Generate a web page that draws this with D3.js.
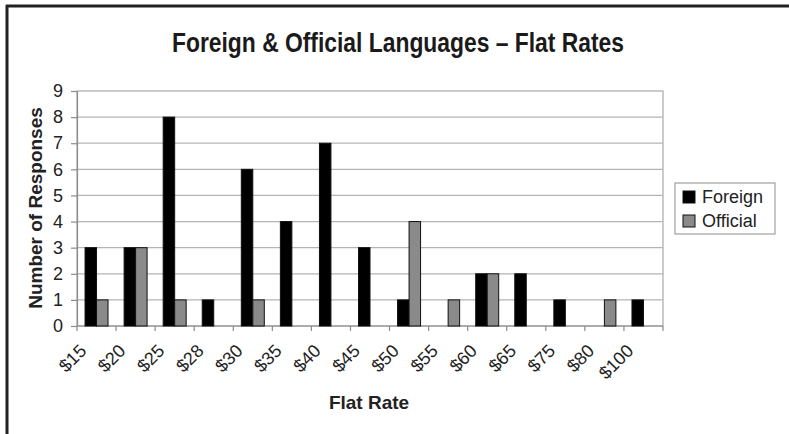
<!DOCTYPE html>
<html>
<head>
<meta charset="utf-8">
<script src="https://cdn.jsdelivr.net/npm/d3@7"></script>
<style>
  html, body { margin: 0; padding: 0; background: #fff; }
  svg { display: block; }
</style>
</head>
<body>
<svg id="chart" width="789" height="434"></svg>
<script>
// Flat-rate survey responses for foreign and official language work
const categories = ["$15", "$20", "$25", "$28", "$30", "$35", "$40", "$45", "$50", "$55", "$60", "$65", "$75", "$80", "$100"];
const foreign  = [3, 3, 8, 1, 6, 4, 7, 3, 1, 0, 2, 2, 1, 0, 1];
const official = [1, 3, 1, 0, 1, 0, 0, 0, 4, 1, 2, 0, 0, 1, 0];
const seriesNames = ["Foreign", "Official"];
const yTicks = [0, 1, 2, 3, 4, 5, 6, 7, 8, 9];

const seriesData = { Foreign: foreign, Official: official };
const colors = { Foreign: "#000000", Official: "#8a8a8a" };

const svg = d3.select("#chart");
const plot = { left: 77, right: 663, top: 91, bottom: 326 };

// Frame around the figure
svg.append("line").attr("x1", 6).attr("x2", 789).attr("y1", 6).attr("y2", 6)
  .attr("stroke", "#222").attr("stroke-width", 3);
svg.append("line").attr("x1", 7).attr("x2", 7).attr("y1", 5).attr("y2", 434)
  .attr("stroke", "#222").attr("stroke-width", 3);

// Title
svg.append("text")
  .attr("x", 398).attr("y", 52)
  .attr("text-anchor", "middle")
  .attr("font-family", "'Liberation Sans Narrow', 'Arial Narrow', sans-serif")
  .attr("font-weight", "bold")
  .attr("font-size", 28)
  .attr("fill", "#1a1a1a")
  .attr("textLength", 452)
  .attr("lengthAdjust", "spacingAndGlyphs")
  .text("Foreign & Official Languages \u2013 Flat Rates");

const x = d3.scaleBand().domain(categories).range([plot.left, plot.right]).paddingInner(0).paddingOuter(0);
const xs = d3.scaleBand().domain(seriesNames).range([0, x.bandwidth()]).paddingInner(0).paddingOuter(0.7);
const y = d3.scaleLinear().domain([0, 9]).range([plot.bottom, plot.top]);

// Plot area
svg.append("rect")
  .attr("x", plot.left).attr("y", plot.top)
  .attr("width", plot.right - plot.left).attr("height", plot.bottom - plot.top)
  .attr("fill", "#fff").attr("stroke", "#a8a8a8").attr("stroke-width", 1.2);

// Horizontal gridlines
svg.append("g").selectAll("line")
  .data(yTicks.filter(t => t > 0 && t < 9))
  .join("line")
  .attr("x1", plot.left).attr("x2", plot.right)
  .attr("y1", d => y(d)).attr("y2", d => y(d))
  .attr("stroke", "#b4b4b4").attr("stroke-width", 1.2);

// Y axis
const yAxis = svg.append("g")
  .attr("transform", `translate(${plot.left},0)`)
  .call(d3.axisLeft(y).tickValues(yTicks).tickSize(6).tickPadding(8).tickSizeOuter(0));
yAxis.select(".domain").attr("stroke", "#8c8c8c").attr("stroke-width", 1.2);
yAxis.selectAll(".tick line").attr("stroke", "#8c8c8c").attr("stroke-width", 1.2);
yAxis.selectAll(".tick text")
  .attr("font-family", "'Liberation Sans', Arial, sans-serif")
  .attr("font-size", 18).attr("fill", "#222");

// X axis: ticks sit on category boundaries
const xAxisG = svg.append("g").attr("transform", `translate(0,${plot.bottom})`);
xAxisG.append("line").attr("x1", plot.left).attr("x2", plot.right)
  .attr("stroke", "#8c8c8c").attr("stroke-width", 1.2);
xAxisG.selectAll("line.tk")
  .data(categories.concat(["end"]))
  .join("line").attr("class", "tk")
  .attr("x1", (d, i) => plot.left + i * x.step())
  .attr("x2", (d, i) => plot.left + i * x.step())
  .attr("y1", 0).attr("y2", 5)
  .attr("stroke", "#8c8c8c").attr("stroke-width", 1.2);
xAxisG.selectAll("text")
  .data(categories)
  .join("text")
  .attr("transform", d => `translate(${x(d) + x.bandwidth() / 2 - 9},26) rotate(-45)`)
  .attr("text-anchor", "end")
  .attr("font-family", "'Liberation Sans', Arial, sans-serif")
  .attr("font-size", 18).attr("fill", "#222")
  .text(d => d);

// Bars
const groups = svg.append("g").selectAll("g")
  .data(categories)
  .join("g")
  .attr("transform", d => `translate(${x(d)},0)`);
groups.selectAll("rect")
  .data((d, i) => seriesNames.map(s => ({ s, v: seriesData[s][i] })).filter(o => o.v > 0))
  .join("rect")
  .attr("x", d => xs(d.s))
  .attr("width", xs.bandwidth())
  .attr("y", d => y(d.v))
  .attr("height", d => y(0) - y(d.v))
  .attr("fill", d => colors[d.s])
  .attr("stroke", "#111").attr("stroke-width", 1);

// Axis titles
svg.append("text")
  .attr("transform", "translate(42,208) rotate(-90)")
  .attr("text-anchor", "middle")
  .attr("font-family", "'Liberation Sans', Arial, sans-serif")
  .attr("font-weight", "bold").attr("font-size", 19).attr("fill", "#222")
  .text("Number of Responses");
svg.append("text")
  .attr("x", 369).attr("y", 409)
  .attr("text-anchor", "middle")
  .attr("font-family", "'Liberation Sans', Arial, sans-serif")
  .attr("font-weight", "bold").attr("font-size", 19).attr("fill", "#222")
  .text("Flat Rate");

// Legend
const legend = svg.append("g").attr("transform", "translate(675,183)");
legend.append("rect").attr("width", 100).attr("height", 51)
  .attr("fill", "#fff").attr("stroke", "#a0a0a0").attr("stroke-width", 1.2);
const li = legend.selectAll("g.item").data(seriesNames).join("g").attr("class", "item")
  .attr("transform", (d, i) => `translate(8,${8 + i * 24})`);
li.append("rect").attr("width", 12).attr("height", 12)
  .attr("fill", d => colors[d]).attr("stroke", "#111").attr("stroke-width", 1);
li.append("text").attr("x", 19).attr("y", 12)
  .attr("font-family", "'Liberation Sans', Arial, sans-serif")
  .attr("font-size", 18).attr("fill", "#222")
  .text(d => d);
</script>
</body>
</html>
